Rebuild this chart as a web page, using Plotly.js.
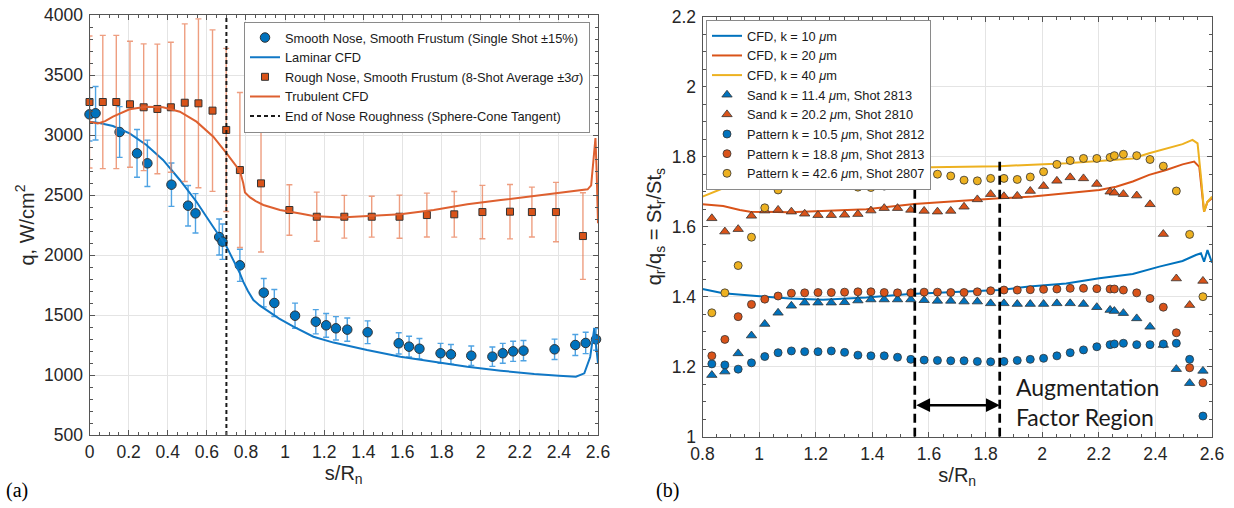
<!DOCTYPE html>
<html>
<head>
<meta charset="utf-8">
<script src="https://cdn.plot.ly/plotly-3.0.1.min.js"></script>
<style>
html, body { margin: 0; padding: 0; background: #fff; }
#chart { width: 1234px; height: 508px; }
</style>
</head>
<body>
<div id="chart"></div>
<script>
// ---------- Panel (a): stagnation-line heat flux ----------
const smoothS = [0, 0.031, 0.154, 0.243, 0.296, 0.419, 0.504, 0.542, 0.663, 0.680, 0.769, 0.891, 0.945, 1.051, 1.157, 1.210, 1.260, 1.318, 1.422, 1.581, 1.634, 1.687, 1.795, 1.848, 1.952, 2.060, 2.113, 2.166, 2.219, 2.378, 2.484, 2.537, 2.590];
const smoothQ = [3172, 3181, 3025, 2847, 2764, 2586, 2411, 2347, 2150, 2111, 1914, 1686, 1600, 1494, 1444, 1414, 1389, 1378, 1356, 1264, 1236, 1219, 1181, 1172, 1161, 1153, 1181, 1197, 1203, 1214, 1250, 1267, 1297];
const smoothErrPct = 7;

const roughS = [0, 0.068, 0.137, 0.207, 0.277, 0.347, 0.416, 0.487, 0.557, 0.629, 0.699, 0.769, 0.877, 1.022, 1.162, 1.303, 1.443, 1.585, 1.725, 1.865, 2.009, 2.150, 2.262, 2.385, 2.523];
const roughQ = [3275, 3275, 3275, 3256, 3231, 3217, 3231, 3269, 3264, 3203, 3042, 2708, 2597, 2375, 2319, 2319, 2319, 2319, 2333, 2339, 2358, 2361, 2358, 2358, 2158];
const roughSigma3 = [550, 555, 555, 525, 528, 540, 542, 657, 704, 673, 680, 646, 572, 210, 205, 178, 170, 180, 183, 190, 222, 227, 208, 247, 361];

const lamS = [0, 0.05, 0.12, 0.205, 0.291, 0.376, 0.462, 0.547, 0.632, 0.701, 0.769, 0.786, 0.81, 0.838, 0.87, 0.906, 0.97, 1.043, 1.145, 1.248, 1.419, 1.59, 1.76, 1.932, 2.103, 2.274, 2.40, 2.487, 2.53, 2.56, 2.581, 2.6];
const lamQ = [3111, 3100, 3075, 3014, 2917, 2792, 2625, 2444, 2236, 2069, 1847, 1778, 1700, 1625, 1580, 1542, 1470, 1403, 1319, 1270, 1208, 1153, 1111, 1069, 1036, 1008, 994, 986, 1014, 1150, 1389, 1097];

const turbS = [0, 0.043, 0.08, 0.12, 0.205, 0.29, 0.376, 0.462, 0.547, 0.633, 0.701, 0.752, 0.769, 0.786, 0.795, 0.821, 0.855, 0.889, 0.974, 1.077, 1.145, 1.282, 1.419, 1.59, 1.76, 1.932, 2.103, 2.274, 2.444, 2.547, 2.565, 2.573, 2.581, 2.587, 2.593, 2.6];
const turbQ = [3111, 3097, 3115, 3153, 3214, 3236, 3231, 3194, 3111, 2986, 2847, 2736, 2700, 2600, 2520, 2480, 2444, 2417, 2375, 2345, 2325, 2312, 2322, 2339, 2375, 2422, 2458, 2494, 2528, 2547, 2580, 2708, 2875, 2975, 2700, 2264];

const noseEnd = 0.70;           // sphere-cone tangent point
const qRange = [500, 4000];

// ---------- Panel (b): augmentation ratios ----------
const cfd10S = [0.8, 0.873, 0.991, 1.109, 1.226, 1.379, 1.532, 1.732, 1.849, 1.955, 2.085, 2.202, 2.320, 2.414, 2.496, 2.543, 2.561, 2.572, 2.584, 2.6];
const cfd10 = [1.422, 1.410, 1.402, 1.395, 1.391, 1.398, 1.408, 1.414, 1.419, 1.429, 1.438, 1.453, 1.465, 1.486, 1.502, 1.519, 1.524, 1.500, 1.533, 1.497];

const cfd20S = [0.8, 0.873, 0.932, 0.968, 1.109, 1.226, 1.379, 1.548, 1.732, 1.849, 1.967, 2.085, 2.202, 2.261, 2.320, 2.378, 2.438, 2.496, 2.537, 2.555, 2.572, 2.584, 2.6];
const cfd20 = [1.664, 1.659, 1.648, 1.643, 1.641, 1.645, 1.650, 1.665, 1.676, 1.681, 1.686, 1.695, 1.705, 1.714, 1.729, 1.748, 1.762, 1.778, 1.786, 1.771, 1.643, 1.671, 1.681];

const cfd40S = [0.8, 0.873, 0.932, 0.991, 1.109, 1.226, 1.379, 1.548, 1.849, 1.967, 2.085, 2.202, 2.320, 2.378, 2.438, 2.496, 2.531, 2.549, 2.561, 2.572, 2.584, 2.6];
const cfd40 = [1.686, 1.710, 1.724, 1.738, 1.753, 1.762, 1.769, 1.769, 1.773, 1.776, 1.781, 1.788, 1.795, 1.810, 1.824, 1.836, 1.848, 1.838, 1.743, 1.643, 1.671, 1.686];

const gaugeS = [0.833, 0.879, 0.926, 0.973, 1.020, 1.067, 1.114, 1.161, 1.208, 1.255, 1.302, 1.349, 1.395, 1.442, 1.489, 1.536, 1.583, 1.630, 1.677, 1.724, 1.771, 1.818, 1.865, 1.912, 1.958, 2.005, 2.052, 2.099, 2.146, 2.193, 2.240, 2.255, 2.287, 2.334, 2.381, 2.428, 2.474, 2.521, 2.568];
const sand11 = [1.176, 1.186, 1.238, 1.289, 1.322, 1.354, 1.374, 1.383, 1.383, 1.383, 1.384, 1.389, 1.392, 1.392, 1.392, 1.392, 1.390, 1.388, 1.388, 1.386, 1.386, 1.381, 1.381, 1.379, 1.379, 1.379, 1.381, 1.381, 1.379, 1.370, 1.362, 1.359, 1.353, 1.338, 1.314, 1.262, 1.193, 1.153, 1.188];
const sand20 = [1.624, 1.586, 1.593, 1.631, 1.646, 1.648, 1.643, 1.637, 1.633, 1.633, 1.634, 1.636, 1.646, 1.653, 1.653, 1.648, 1.645, 1.643, 1.645, 1.657, 1.678, 1.693, 1.687, 1.688, 1.702, 1.716, 1.731, 1.741, 1.738, 1.722, 1.700, 1.697, 1.693, 1.689, 1.664, 1.579, 1.452, 1.376, 1.445];
const pat10 = [1.208, 1.205, 1.193, 1.211, 1.229, 1.240, 1.245, 1.243, 1.243, 1.245, 1.241, 1.233, 1.231, 1.231, 1.227, 1.221, 1.219, 1.218, 1.217, 1.217, 1.215, 1.214, 1.215, 1.218, 1.221, 1.224, 1.231, 1.240, 1.248, 1.257, 1.263, 1.265, 1.267, 1.263, 1.263, 1.265, 1.267, 1.221, 1.059];
const pat18 = [1.231, 1.278, 1.343, 1.378, 1.393, 1.402, 1.410, 1.411, 1.412, 1.412, 1.413, 1.414, 1.414, 1.412, 1.411, 1.411, 1.413, 1.413, 1.412, 1.412, 1.414, 1.417, 1.419, 1.419, 1.420, 1.421, 1.422, 1.424, 1.424, 1.423, 1.422, 1.422, 1.419, 1.411, 1.395, 1.370, 1.297, 1.197, 1.154];
const pat42 = [1.354, 1.411, 1.489, 1.570, 1.654, 1.705, 1.726, 1.731, 1.733, 1.726, 1.718, 1.713, 1.712, 1.716, 1.722, 1.731, 1.743, 1.750, 1.745, 1.733, 1.731, 1.738, 1.738, 1.735, 1.742, 1.757, 1.778, 1.789, 1.795, 1.795, 1.798, 1.803, 1.807, 1.803, 1.792, 1.773, 1.702, 1.578, 1.400];

const regionStart = 1.55, regionEnd = 1.85;   // augmentation factor window
const regionTop = 1.79, arrowY = 1.09;
const ratioRange = [1, 2.2];

// ---------- styling ----------
const BLUE = '#0072BD', ORANGE = '#D95319', YELLOW = '#EDB120';
const EDGE = '#333333';
const SANS = 'Liberation Sans, Arial, Helvetica, sans-serif';
const W = 1234, H = 508;

const traces = [
  { x: smoothS, y: smoothQ, mode: 'markers', name: 'Smooth Nose, Smooth Frustum (Single Shot ±15%)',
    marker: { symbol: 'circle', size: 9.5, color: BLUE, line: { color: EDGE, width: 1 } },
    error_y: { type: 'percent', value: smoothErrPct, color: '#4FA3E3', thickness: 1.4, width: 3 },
    cliponaxis: false, xaxis: 'x', yaxis: 'y', legend: 'legend' },
  { x: lamS, y: lamQ, mode: 'lines', name: 'Laminar CFD',
    line: { color: '#1178C6', width: 2 }, xaxis: 'x', yaxis: 'y', legend: 'legend' },
  { x: roughS, y: roughQ, mode: 'markers', name: 'Rough Nose, Smooth Frustum (8-Shot Average ±3<i>σ</i>)',
    marker: { symbol: 'square', size: 7, color: ORANGE, line: { color: EDGE, width: 1 } },
    error_y: { type: 'data', array: roughSigma3, color: 'rgba(232,125,85,0.75)', thickness: 1.4, width: 3 },
    cliponaxis: false, xaxis: 'x', yaxis: 'y', legend: 'legend' },
  { x: turbS, y: turbQ, mode: 'lines', name: 'Trubulent CFD',
    line: { color: '#DE6030', width: 2 }, xaxis: 'x', yaxis: 'y', legend: 'legend' },
  { x: [noseEnd, noseEnd], y: qRange, mode: 'lines', name: 'End of Nose Roughness (Sphere-Cone Tangent)',
    line: { color: '#1a1a1a', width: 2, dash: '4px,3px' }, xaxis: 'x', yaxis: 'y', legend: 'legend' },

  { x: cfd10S, y: cfd10, mode: 'lines', name: 'CFD, k = 10 <i>μ</i>m',
    line: { color: BLUE, width: 2 }, xaxis: 'x2', yaxis: 'y2', legend: 'legend2' },
  { x: cfd20S, y: cfd20, mode: 'lines', name: 'CFD, k = 20 <i>μ</i>m',
    line: { color: ORANGE, width: 2 }, xaxis: 'x2', yaxis: 'y2', legend: 'legend2' },
  { x: cfd40S, y: cfd40, mode: 'lines', name: 'CFD, k = 40 <i>μ</i>m',
    line: { color: YELLOW, width: 2 }, xaxis: 'x2', yaxis: 'y2', legend: 'legend2' },
  { x: gaugeS, y: sand11, mode: 'markers', name: 'Sand k = 11.4 <i>μ</i>m, Shot 2813',
    marker: { symbol: 'triangle-up', size: 9, color: BLUE, line: { color: EDGE, width: 0.8 } },
    cliponaxis: false, xaxis: 'x2', yaxis: 'y2', legend: 'legend2' },
  { x: gaugeS, y: sand20, mode: 'markers', name: 'Sand k = 20.2 <i>μ</i>m, Shot 2810',
    marker: { symbol: 'triangle-up', size: 9, color: ORANGE, line: { color: EDGE, width: 0.8 } },
    cliponaxis: false, xaxis: 'x2', yaxis: 'y2', legend: 'legend2' },
  { x: gaugeS, y: pat10, mode: 'markers', name: 'Pattern k = 10.5 <i>μ</i>m, Shot 2812',
    marker: { symbol: 'circle', size: 8, color: BLUE, line: { color: EDGE, width: 0.8 } },
    cliponaxis: false, xaxis: 'x2', yaxis: 'y2', legend: 'legend2' },
  { x: gaugeS, y: pat18, mode: 'markers', name: 'Pattern k = 18.8 <i>μ</i>m, Shot 2813',
    marker: { symbol: 'circle', size: 8, color: ORANGE, line: { color: EDGE, width: 0.8 } },
    cliponaxis: false, xaxis: 'x2', yaxis: 'y2', legend: 'legend2' },
  { x: gaugeS, y: pat42, mode: 'markers', name: 'Pattern k = 42.6 <i>μ</i>m, Shot 2807',
    marker: { symbol: 'circle', size: 8, color: YELLOW, line: { color: EDGE, width: 0.8 } },
    cliponaxis: false, xaxis: 'x2', yaxis: 'y2', legend: 'legend2' }
];

const axisBase = {
  showline: true, linecolor: '#555555', linewidth: 1, mirror: 'ticks',
  ticks: 'inside', ticklen: 5, tickwidth: 1, tickcolor: '#555555',
  showgrid: true, gridcolor: '#e4e4e4', gridwidth: 1, zeroline: false,
  tickfont: { family: SANS, size: 17.5, color: '#262626' },
  automargin: false, fixedrange: true
};
const titleFont = { family: SANS, size: 20, color: '#262626' };
const minorTicks = (d) => ({ dtick: d, ticks: 'inside', ticklen: 3, tickcolor: '#555555', showgrid: false });

const legendBase = {
  bgcolor: '#ffffff', bordercolor: '#8a8a8a', borderwidth: 1,
  font: { family: SANS, size: 12.8, color: '#1a1a1a' },
  xanchor: 'left', yanchor: 'top', tracegroupgap: 0, itemwidth: 30
};

const layout = {
  width: W, height: H,
  margin: { l: 0, r: 0, t: 0, b: 0 },
  paper_bgcolor: '#ffffff', plot_bgcolor: '#ffffff',
  showlegend: true,
  xaxis: Object.assign({}, axisBase, {
    domain: [89.5 / W, 598 / W], range: [0, 2.6], dtick: 0.2, tick0: 0, anchor: 'y',
    minor: minorTicks(0.05), ticklabelstandoff: 1,
    title: { text: 's/R<sub>n</sub>', font: titleFont, standoff: 2 }
  }),
  yaxis: Object.assign({}, axisBase, {
    domain: [(H - 435) / H, (H - 15) / H], range: qRange, dtick: 500, tick0: 500, anchor: 'x',
    minor: minorTicks(100), ticklabelstandoff: 2,
    title: { text: 'q, W/cm<sup>2</sup>', font: titleFont, standoff: 4 }
  }),
  xaxis2: Object.assign({}, axisBase, {
    domain: [702.5 / W, 1212 / W], range: [0.8, 2.6], dtick: 0.2, tick0: 0.8, anchor: 'y2',
    minor: minorTicks(0.05), ticklabelstandoff: 1,
    title: { text: 's/R<sub>n</sub>', font: titleFont, standoff: 2 }
  }),
  yaxis2: Object.assign({}, axisBase, {
    domain: [(H - 436.7) / H, (H - 16.7) / H], range: ratioRange, dtick: 0.2, tick0: 1, anchor: 'x2',
    minor: minorTicks(0.05), ticklabelstandoff: 2,
    title: { text: 'q<sub>r</sub>/q<sub>s</sub> = St<sub>r</sub>/St<sub>s</sub>', font: titleFont, standoff: 4 }
  }),
  legend: Object.assign({}, legendBase, { x: 244 / W, y: (H - 21.7) / H }),
  legend2: Object.assign({}, legendBase, { x: 706 / W, y: (H - 20) / H }),
  shapes: [regionStart, regionEnd].map(s => ({
    type: 'line', xref: 'x2', yref: 'y2', x0: s, x1: s, y0: ratioRange[0], y1: regionTop,
    line: { color: '#000000', width: 2.7, dash: '9px,5px' }
  })),
  annotations: [
    { xref: 'x2', yref: 'y2', axref: 'x2', ayref: 'y2',
      x: regionEnd, y: arrowY, ax: regionStart, ay: arrowY, text: '',
      showarrow: true, arrowside: 'end+start', arrowhead: 2, startarrowhead: 2,
      arrowsize: 1.1, startarrowsize: 1.1, arrowwidth: 2.5, arrowcolor: '#000000',
      standoff: 0, startstandoff: 0 },
    { xref: 'x2', yref: 'y2', x: 1.90, y: 1.099, xanchor: 'left', yanchor: 'middle', align: 'left',
      text: 'Augmentation<br>Factor Region', showarrow: false,
      font: { family: 'Lato, Open Sans, sans-serif', size: 23, color: '#1a1a1a' } },
    { xref: 'paper', yref: 'paper', x: 4 / W, y: (H - 490) / H, xanchor: 'left', yanchor: 'middle',
      text: '(a)', showarrow: false, font: { family: 'Liberation Serif, Times New Roman, serif', size: 20, color: '#000' } },
    { xref: 'paper', yref: 'paper', x: 654 / W, y: (H - 490) / H, xanchor: 'left', yanchor: 'middle',
      text: '(b)', showarrow: false, font: { family: 'Liberation Serif, Times New Roman, serif', size: 20, color: '#000' } }
  ]
};

Plotly.newPlot('chart', traces, layout, { staticPlot: true, displayModeBar: false });
</script>
</body>
</html>
